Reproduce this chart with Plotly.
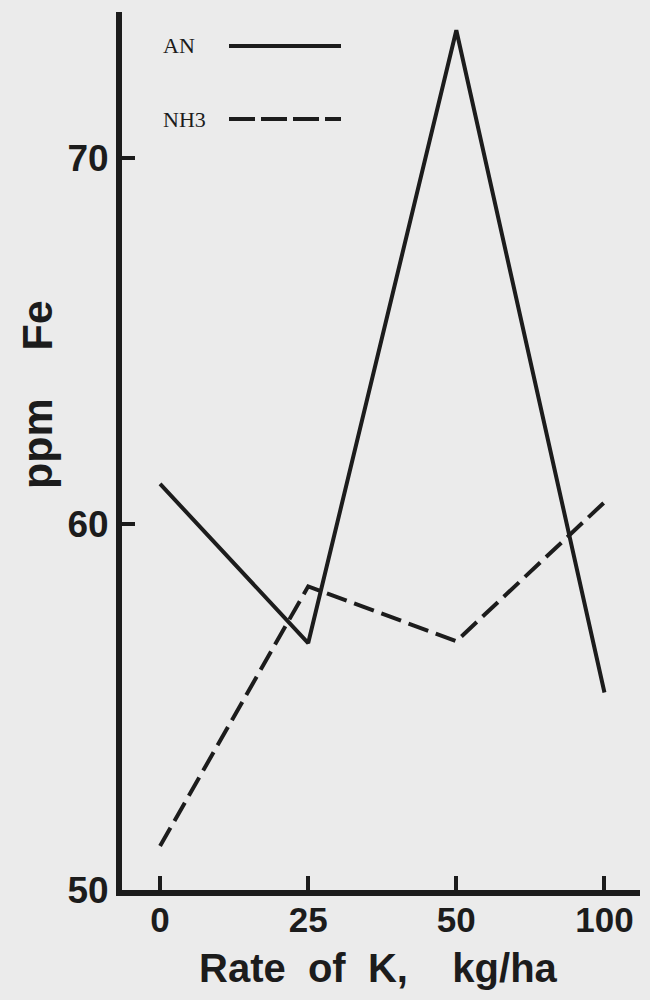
import plotly.graph_objects as go

rates = ["0", "25", "50", "100"]
an_fe = [61.1, 56.75, 73.5, 55.4]
nh3_fe = [51.2, 58.3, 56.8, 60.6]
y_ticks = [50, 60, 70]

xpos = list(range(len(rates)))
ink = "#1c1c1c"
bg = "#ebebeb"
sans = "Liberation Sans, Arial, sans-serif"
serif = "Liberation Serif, DejaVu Serif, serif"

fig = go.Figure()
fig.add_trace(go.Scatter(x=xpos, y=an_fe, mode="lines", name="AN",
                         line=dict(color=ink, width=4)))
fig.add_trace(go.Scatter(x=xpos, y=nh3_fe, mode="lines", name="NH3",
                         line=dict(color=ink, width=4, dash="21px,8px")))

L, R, T, B = 122, 640, 12, 890
W, H = R - L, B - T

fig.update_layout(
    width=650, height=1000,
    margin=dict(l=L, r=650 - R, t=T, b=1000 - B),
    paper_bgcolor=bg, plot_bgcolor=bg,
    showlegend=False,
    font=dict(family=sans, color=ink),
)
fig.update_xaxes(
    range=[-0.257, 3.24], tickvals=xpos, ticktext=rates,
    showgrid=False, zeroline=False,
    showline=True, linecolor=ink, linewidth=6,
    ticks="inside", ticklen=14, tickwidth=4, tickcolor=ink,
    ticklabelstandoff=-6,
    tickfont=dict(size=35, family=sans, color=ink, weight="bold"),
)
fig.update_yaxes(
    range=[50, 74.0], tickvals=y_ticks, ticktext=[str(v) for v in y_ticks],
    showgrid=False, zeroline=False,
    showline=True, linecolor=ink, linewidth=6,
    ticks="inside", ticklen=13, tickwidth=4, tickcolor=ink,
    tickfont=dict(size=37, family=sans, color=ink, weight="bold"),
)

# axis titles
fig.add_annotation(text="<b>Rate&nbsp;&nbsp;of&nbsp;&nbsp;K,&nbsp;&nbsp;&nbsp;&nbsp;kg/ha</b>",
                   xref="paper", yref="paper",
                   x=(378 - L) / W, y=-(968 - B) / H, showarrow=False,
                   font=dict(size=40, color=ink), xanchor="center", yanchor="middle")
fig.add_annotation(text="<b>ppm&nbsp;&nbsp;&nbsp;&nbsp;Fe</b>", xref="paper", yref="paper",
                   x=-(L - 37) / W, y=(B - 395) / H, showarrow=False,
                   textangle=-90,
                   font=dict(size=43, color=ink), xanchor="center", yanchor="middle")

# legend drawn as text + line samples
for label, yy, dash in [("AN", 46, "solid"), ("NH3", 119, "26px,6px")]:
    yp = (B - yy) / H
    fig.add_annotation(text=label, xref="paper", yref="paper",
                       x=(161 - L) / W, y=yp, showarrow=False,
                       xanchor="left", yanchor="middle",
                       font=dict(size=22, family=serif, color=ink))
    fig.add_shape(type="line", xref="paper", yref="paper",
                  x0=(229 - L) / W, x1=(341 - L) / W, y0=yp, y1=yp,
                  line=dict(color=ink, width=4, dash=dash))

fig.write_html(
    "out.html",
    config={"displayModeBar": False},
    post_script="document.body.style.margin='0';document.body.style.background='%s';" % bg,
)
